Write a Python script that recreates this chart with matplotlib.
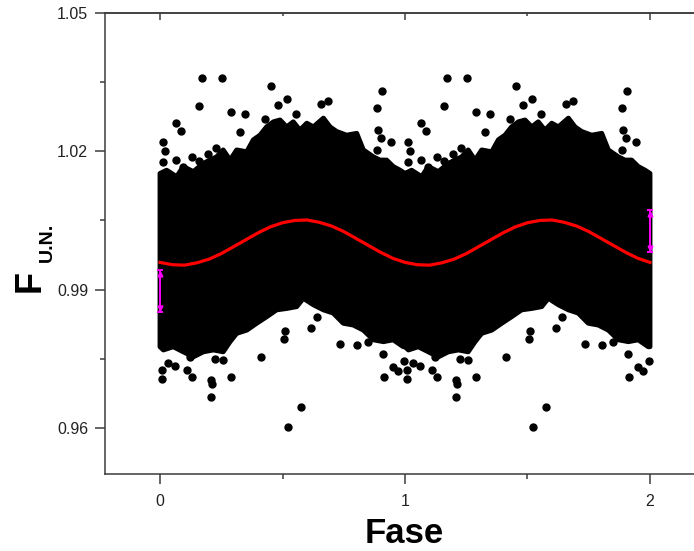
import matplotlib
matplotlib.use("Agg")
import matplotlib.pyplot as plt
import numpy as np

# Phase-folded photometry: dense cloud described by its upper/lower edges,
# isolated points, the sinusoidal fit and two representative error bars.
# Values cover one cycle (phase 0..1); the plot repeats it over phase 0..2.

upper_phase = [0.000, 0.027, 0.068, 0.095, 0.136, 0.177, 0.231, 0.258, 0.286,
               0.313, 0.354, 0.381, 0.408, 0.435, 0.463, 0.490, 0.517, 0.544,
               0.571, 0.599, 0.626, 0.667, 0.694, 0.721, 0.762, 0.803, 0.830,
               0.871, 0.898, 0.925, 0.952, 0.980, 1.000]
upper_flux = [1.0152, 1.0159, 1.0145, 1.0167, 1.0156, 1.0174, 1.0188, 1.0203,
              1.0181, 1.0203, 1.0199, 1.0225, 1.0235, 1.0253, 1.0264, 1.0268,
              1.0253, 1.0264, 1.0246, 1.0261, 1.0253, 1.0272, 1.0253, 1.0243,
              1.0235, 1.0239, 1.0203, 1.0188, 1.0181, 1.0181, 1.0167, 1.0159,
              1.0152]

lower_phase = [0.000, 0.014, 0.054, 0.095, 0.136, 0.177, 0.218, 0.258, 0.286,
               0.313, 0.354, 0.395, 0.435, 0.476, 0.517, 0.558, 0.585, 0.626,
               0.667, 0.707, 0.748, 0.789, 0.830, 0.871, 0.912, 0.952, 0.993,
               1.000]
lower_flux = [0.9776, 0.9769, 0.9776, 0.9765, 0.9754, 0.9765, 0.9769, 0.9765,
              0.9787, 0.9805, 0.9812, 0.9827, 0.9841, 0.9856, 0.9859, 0.9863,
              0.9881, 0.9867, 0.9856, 0.9849, 0.9827, 0.9823, 0.9812, 0.9791,
              0.9787, 0.9791, 0.9776, 0.9776]

# isolated measurements outside the dense band (one cycle)
scatter_phase = [0.172, 0.254, 0.452, 0.159, 0.481, 0.520, 0.657, 0.684, 0.908,
                 0.885, 0.289, 0.346, 0.065, 0.086, 0.327, 0.430, 0.554, 0.011,
                 0.020, 0.014, 0.065, 0.132, 0.160, 0.197, 0.229, 0.889, 0.902,
                 0.942, 0.885, 0.095,
                 0.007, 0.007, 0.034, 0.061, 0.109, 0.129, 0.207, 0.211, 0.208,
                 0.290, 0.224, 0.258, 0.411, 0.509, 0.506, 0.576, 0.521, 0.640,
                 0.616, 0.735, 0.850, 0.912, 0.915, 0.950, 0.973, 0.996, 0.803,
                 0.122]
scatter_flux = [1.0360, 1.0358, 1.0342, 1.0299, 1.0300, 1.0313, 1.0302, 1.0310,
                1.0331, 1.0295, 1.0285, 1.0280, 1.0261, 1.0243, 1.0241, 1.0270,
                1.0280, 1.0221, 1.0201, 1.0177, 1.0181, 1.0188, 1.0179, 1.0195,
                1.0208, 1.0246, 1.0228, 1.0221, 1.0203, 1.0167,
                0.9726, 0.9706, 0.9740, 0.9734, 0.9726, 0.9711, 0.9704, 0.9695,
                0.9667, 0.9710, 0.9749, 0.9747, 0.9754, 0.9811, 0.9792, 0.9645,
                0.9601, 0.9841, 0.9816, 0.9782, 0.9786, 0.9760, 0.9710, 0.9732,
                0.9724, 0.9745, 0.9779, 0.9754]

# sinusoidal fit
fit_phase = [0.00, 0.05, 0.10, 0.15, 0.20, 0.25, 0.30, 0.35, 0.40, 0.45, 0.50,
             0.55, 0.60, 0.65, 0.70, 0.75, 0.80, 0.85, 0.90, 0.95, 1.00]
fit_flux = [0.9959, 0.9954, 0.9953, 0.9958, 0.9966, 0.9978, 0.9993, 1.0008,
            1.0023, 1.0036, 1.0045, 1.0050, 1.0051, 1.0046, 1.0038, 1.0026,
            1.0011, 0.9996, 0.9981, 0.9968, 0.9959]

# representative uncertainties
err_phase = [0.0, 2.0]
err_flux = [0.9897, 1.0027]
err_size = [0.0046, 0.0046]

x_ticks = [0, 1, 2]
x_tick_labels = ["0", "1", "2"]
y_ticks = [0.96, 0.99, 1.02, 1.05]
y_tick_labels = ["0.96", "0.99", "1.02", "1.05"]

plt.rcParams["font.family"] = ["Liberation Sans", "DejaVu Sans"]

fig = plt.figure(figsize=(6.94, 5.51), dpi=100)
ax = fig.add_axes([105 / 694, 77 / 551, 600 / 694, 461 / 551])

up_p = np.asarray(upper_phase)
up_f = np.asarray(upper_flux)
lo_p = np.asarray(lower_phase)
lo_f = np.asarray(lower_flux)
sc_p = np.asarray(scatter_phase)
sc_f = np.asarray(scatter_flux)
fp = np.asarray(fit_phase)
ff = np.asarray(fit_flux)

for cycle in (0, 1):
    poly_x = np.concatenate([up_p + cycle, (lo_p + cycle)[::-1]])
    poly_y = np.concatenate([up_f, lo_f[::-1]])
    ax.fill(poly_x, poly_y, facecolor="black", edgecolor="black",
            linewidth=3.5, joinstyle="round", zorder=2)
    ax.plot(sc_p + cycle, sc_f, linestyle="none", marker="o", markersize=5,
            color="black", zorder=2)

fit_x = np.concatenate([fp, fp[1:] + 1])
fit_y = np.concatenate([ff, ff[1:]])
ax.plot(fit_x, fit_y, color="#ff0000", linewidth=2.3, zorder=4)

ax.errorbar(err_phase, err_flux, yerr=err_size, fmt="none", ecolor="#ff00ff",
            elinewidth=1.4, capsize=2.5, capthick=1.4, zorder=5)
for p, f, e in zip(err_phase, err_flux, err_size):
    ax.plot([p], [f + e * 0.8], marker="^", markersize=3.5, color="#ff00ff",
            linestyle="none", zorder=5)
    ax.plot([p], [f - e * 0.8], marker="v", markersize=3.5, color="#ff00ff",
            linestyle="none", zorder=5)

ax.set_xlim(-0.2245, 2.2245)
ax.set_ylim(0.95, 1.05)

spine_color = "#3c3c3c"
for s in ax.spines.values():
    s.set_color(spine_color)
    s.set_linewidth(1.1)

ax.set_xticks(x_ticks)
ax.set_xticklabels(x_tick_labels)
ax.set_xticks([0.5, 1.5], minor=True)
ax.set_yticks(y_ticks)
ax.set_yticklabels(y_tick_labels)
ax.set_yticks([0.975, 1.005, 1.035], minor=True)

ax.tick_params(which="major", direction="out", length=7.2, width=1.1,
               color=spine_color, labelsize=11.5, labelcolor="#222222")
ax.tick_params(which="minor", direction="out", length=3.6, width=1.1,
               color=spine_color)
ax.tick_params(axis="y", which="major", pad=5)
ax.tick_params(axis="x", which="major", pad=7)

top = ax.secondary_xaxis("top")
top.set_xticks(x_ticks)
top.set_xticks([0.5, 1.5], minor=True)
top.tick_params(which="major", direction="in", length=5, width=1.1,
                color=spine_color, labeltop=False)
top.tick_params(which="minor", direction="in", length=2.2, width=1.1,
                color=spine_color)
top.spines["top"].set_color(spine_color)
top.spines["top"].set_linewidth(1.1)

fig.text(404 / 694, 1 - 543 / 551, "Fase", ha="center", va="baseline",
         fontsize=25, fontweight="bold", color="black")
fig.text(40 / 694, 1 - 292 / 551, "F", rotation=90, rotation_mode="anchor",
         ha="left", va="baseline", fontsize=26, fontweight="bold",
         color="black")
fig.text(52 / 694, 1 - 262 / 551, "U.N.", rotation=90, rotation_mode="anchor",
         ha="left", va="baseline", fontsize=14, fontweight="bold",
         color="black")

fig.savefig("out.png", dpi=100)
